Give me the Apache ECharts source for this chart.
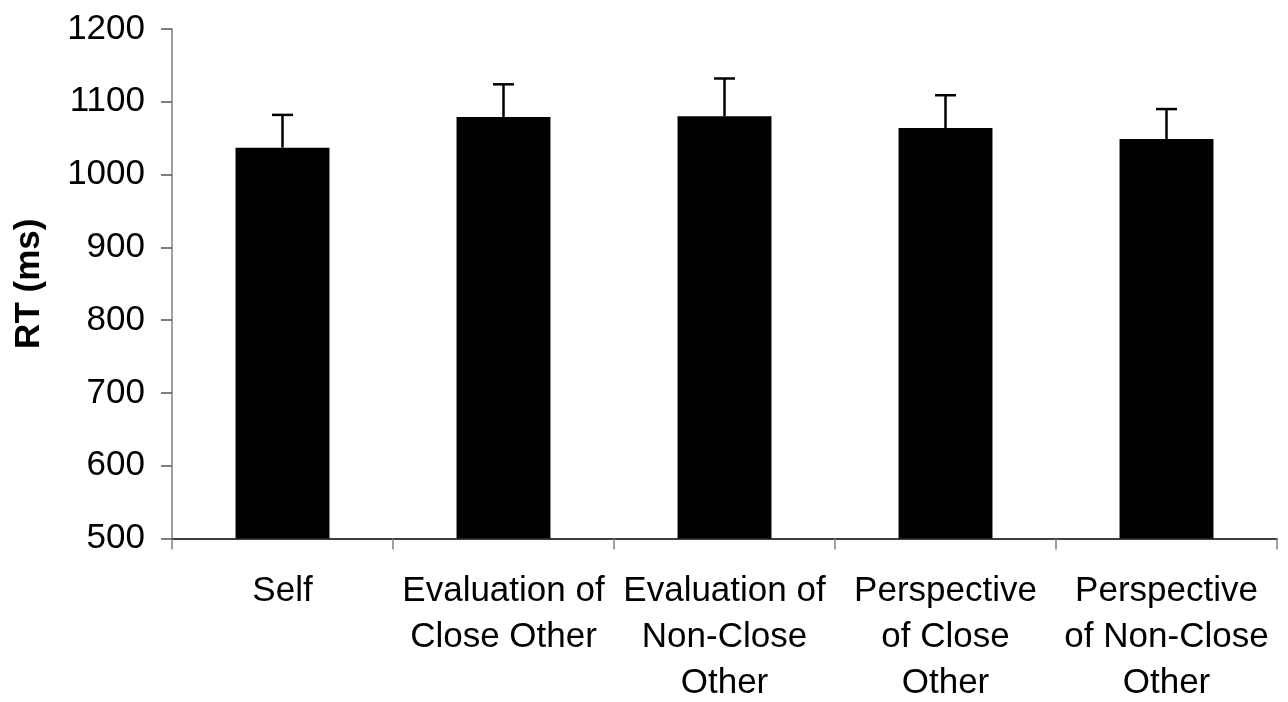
<!DOCTYPE html>
<html><head><meta charset="utf-8">
<script src="https://cdn.jsdelivr.net/npm/echarts@6/dist/echarts.min.js"></script>
<style>html,body{margin:0;padding:0;background:#fff}#c{width:1288px;height:702px}</style>
</head><body><div id="c"></div>
<script>
const categories = ["Self", "Evaluation of\nClose Other", "Evaluation of\nNon-Close\nOther", "Perspective\nof Close\nOther", "Perspective\nof Non-Close\nOther"];
const means = [1037, 1079, 1080, 1064, 1049];
const errorTops = [1082, 1124, 1132, 1109, 1090];
const yTicks = [500, 600, 700, 800, 900, 1000, 1100, 1200];

const font = "'Liberation Sans', Arial, sans-serif";
const chart = echarts.init(document.getElementById('c'));
chart.setOption({
  animation: false,
  backgroundColor: '#fff',
  grid: {left: 172, right: 11, top: 29, bottom: 163.5, containLabel: false, outerBoundsMode: 'none'},
  xAxis: {
    type: 'category', data: categories,
    axisLine: {lineStyle: {color: '#000', width: 1.5}},
    axisTick: {show: true, length: 11, lineStyle: {color: '#808080', width: 1.5}},
    axisLabel: {interval: 0, color: '#000', fontFamily: font, fontSize: 35, lineHeight: 46, margin: 30}
  },
  yAxis: {
    type: 'value', min: yTicks[0], max: yTicks[yTicks.length - 1], interval: 100,
    name: 'RT (ms)', nameLocation: 'middle', nameGap: 125, nameRotate: 90,
    nameTextStyle: {fontFamily: font, fontSize: 35, fontWeight: 'bold', color: '#000'},
    axisLine: {show: true, lineStyle: {color: '#808080', width: 1.5}},
    axisTick: {show: true, length: 11, lineStyle: {color: '#555', width: 1.5}},
    axisLabel: {color: '#000', fontFamily: font, fontSize: 35, margin: 27, formatter: v => String(v)},
    splitLine: {show: false}
  },
  series: [
    {type: 'bar', data: means, barWidth: '42.5%', itemStyle: {color: '#000'}},
    {
      type: 'custom',
      data: categories.map((c, i) => [i, means[i], errorTops[i]]),
      renderItem: function (params, api) {
        const base = api.coord([api.value(0), api.value(1)]);
        const top = api.coord([api.value(0), api.value(2)]);
        const hw = 10.5;
        return {
          type: 'group',
          children: [
            {type: 'line', shape: {x1: base[0], y1: base[1], x2: top[0], y2: top[1]}, style: {stroke: '#000', lineWidth: 2.5}},
            {type: 'line', shape: {x1: top[0] - hw, y1: top[1], x2: top[0] + hw, y2: top[1]}, style: {stroke: '#000', lineWidth: 2.5}}
          ]
        };
      },
      z: 10
    }
  ]
});
</script>
</body></html>
